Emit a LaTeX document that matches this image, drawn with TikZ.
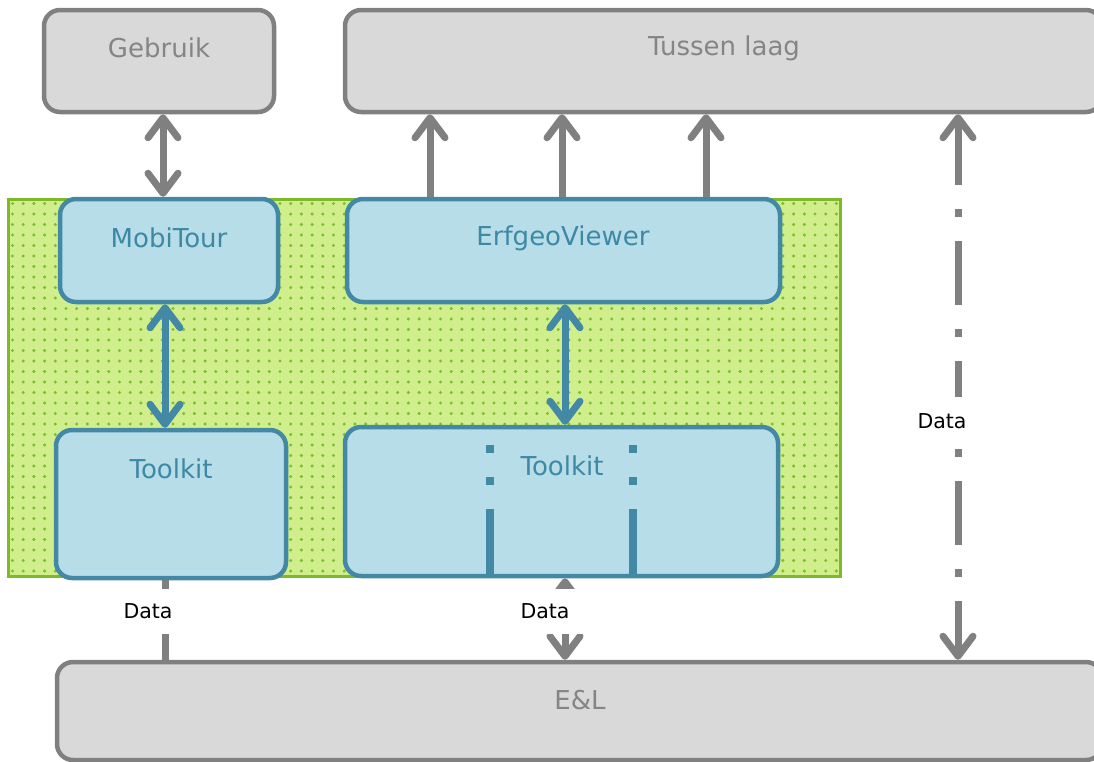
\documentclass[tikz,border=0pt]{standalone}
\usepackage{fontspec}
\setmainfont{DejaVu Sans}
\usetikzlibrary{arrows.meta}
\definecolor{boxgray}{HTML}{D9D9D9}
\definecolor{edgegray}{HTML}{808080}
\definecolor{txtgray}{HTML}{858585}
\definecolor{boxblue}{HTML}{B7DDE8}
\definecolor{edgeblue}{HTML}{4389A6}
\definecolor{txtblue}{HTML}{3D89A5}
\definecolor{lightgreen}{HTML}{D0EF8C}
\definecolor{dotgreen}{HTML}{7FBE30}
\definecolor{edgegreen}{HTML}{7DB928}

\begin{document}
\begin{tikzpicture}[x=1pt, y=-1pt, >={Straight Barb[length=20pt,width=30pt,round]}]
    \tikzset{graybox/.style={draw=edgegray, fill=boxgray, line width=4.5pt, rounded corners=16pt, inner sep=0pt},
             bluebox/.style={draw=edgeblue, fill=boxblue, line width=4.5pt, rounded corners=16pt, inner sep=0pt},
             greenbox/.style={draw=edgegreen, fill=lightgreen, line width=3pt, inner sep=0pt},
             graytext/.style={text=txtgray, font=\fontsize{26}{30}\selectfont},
             bluetext/.style={text=txtblue, font=\fontsize{26}{30}\selectfont},
             grayarrow/.style={draw=edgegray, line width=7pt},
             bluearrow/.style={draw=edgeblue, line width=7pt},
             datalabel/.style={fill=white, font=\fontsize{20.5}{24}\selectfont, inner xsep=2pt, inner ysep=0pt, minimum height=45pt}};
    \useasboundingbox (0,0) rectangle (1094,761);
    \node[greenbox, minimum width=832pt, minimum height=377pt] (groen) at (424,387.5) {};
    \begin{scope}
        \clip (10,201) rectangle (838,574);
        \foreach \x in {12.5,23.2,...,840}
            \foreach \y in {203.5,214,...,576}
                \fill[dotgreen] (\x,\y) circle (1.7pt);
    \end{scope}
    \node[graybox, minimum width=230pt, minimum height=102pt] (gebruik) at (159,61) {};
    \node[graytext] (gebruiktxt) at (159,48) {Gebruik};
    \node[graybox, minimum width=757pt, minimum height=102pt] (tussen) at (723.5,61) {};
    \node[graytext] (tussentxt) at (724,48) {Tussen laag};
    \node[graybox, minimum width=1045pt, minimum height=98pt] (el) at (579.5,711) {};
    \node[graytext] (eltxt) at (580,700) {E\&L};
    \node[bluebox, minimum width=218pt, minimum height=103pt] (mobitour) at (169,250.5) {};
    \node[bluetext] (mobitourtxt) at (169,238) {MobiTour};
    \node[bluebox, minimum width=433pt, minimum height=103pt] (erfgeo) at (563.5,250.5) {};
    \node[bluetext] (erfgeotxt) at (563,238) {ErfgeoViewer};
    \node[bluebox, minimum width=230pt, minimum height=148pt] (toolkitL) at (171,504) {};
    \node[bluetext] (toolkitLtxt) at (171,469) {Toolkit};
    \node[bluebox, minimum width=433pt, minimum height=149pt] (toolkitR) at (561.5,501.5) {};
    \node[bluetext] (toolkitRtxt) at (562,466) {Toolkit};
    \foreach \x in {490,633}
        \draw[edgeblue, line width=8pt, dash pattern=on 8pt off 24pt on 8pt off 24pt on 100pt] (\x,445) -- (\x,576);
    \coordinate (a1) at (163,0);
    \coordinate (a2) at (165,0);
    \coordinate (a3) at (565,0);
    \coordinate (a4) at (958,0);
    \draw[grayarrow, <->] (a1 |- gebruik.south) -- (a1 |- mobitour.north);
    \foreach \x in {430,562,706} {
        \coordinate (up\x) at (\x,0);
        \draw[grayarrow, ->] (up\x |- erfgeo.north) -- (up\x |- tussen.south);
    }
    \draw[bluearrow, <->] (a2 |- mobitour.south) -- (a2 |- toolkitL.north);
    \draw[bluearrow, <->] (a3 |- erfgeo.south) -- (a3 |- toolkitR.north);
    \draw[grayarrow] (a2 |- toolkitL.south) -- (a2 |- el.north);
    \draw[grayarrow, <->] (a3 |- toolkitR.south) -- (a3 |- el.north);
    \draw[grayarrow, <->, dash pattern=on 64pt off 24pt on 8pt off 24pt] (a4 |- tussen.south) -- (a4 |- el.north);
    \node[datalabel] (data1) at (148,611) {Data};
    \node[datalabel, minimum width=82pt] (data2) at (545,611) {Data};
    \node[datalabel, minimum height=48pt] (data3) at (942,421) {Data};
\end{tikzpicture}
\end{document}
